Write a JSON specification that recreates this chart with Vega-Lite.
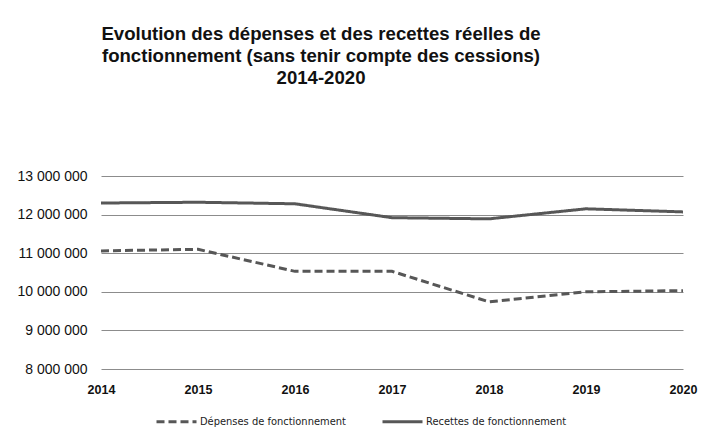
{
  "$schema": "https://vega.github.io/schema/vega-lite/v6.json",
  "width": 582,
  "height": 193,
  "padding": {"left": 11, "top": 25, "right": 20, "bottom": 5},
  "background": "white",
  "title": {
    "text": ["Evolution des dépenses et des recettes réelles de", "fonctionnement (sans tenir compte des cessions)", "2014-2020"],
    "font": "Liberation Sans",
    "fontSize": 18.6,
    "fontWeight": "bold",
    "color": "#111111",
    "lineHeight": 22,
    "anchor": "middle",
    "frame": "group",
    "dx": -71,
    "offset": 81
  },
  "data": {
    "values": [
      {"annee": "2014", "serie": "Dépenses de fonctionnement", "montant": 11060000},
      {"annee": "2015", "serie": "Dépenses de fonctionnement", "montant": 11100000},
      {"annee": "2016", "serie": "Dépenses de fonctionnement", "montant": 10530000},
      {"annee": "2017", "serie": "Dépenses de fonctionnement", "montant": 10530000},
      {"annee": "2018", "serie": "Dépenses de fonctionnement", "montant": 9740000},
      {"annee": "2019", "serie": "Dépenses de fonctionnement", "montant": 10000000},
      {"annee": "2020", "serie": "Dépenses de fonctionnement", "montant": 10030000},
      {"annee": "2014", "serie": "Recettes de fonctionnement", "montant": 12300000},
      {"annee": "2015", "serie": "Recettes de fonctionnement", "montant": 12320000},
      {"annee": "2016", "serie": "Recettes de fonctionnement", "montant": 12280000},
      {"annee": "2017", "serie": "Recettes de fonctionnement", "montant": 11920000},
      {"annee": "2018", "serie": "Recettes de fonctionnement", "montant": 11890000},
      {"annee": "2019", "serie": "Recettes de fonctionnement", "montant": 12150000},
      {"annee": "2020", "serie": "Recettes de fonctionnement", "montant": 12070000}
    ]
  },
  "mark": {"type": "line", "strokeWidth": 3, "color": "#575757"},
  "encoding": {
    "x": {
      "field": "annee",
      "type": "ordinal",
      "scale": {"type": "point", "padding": 0},
      "axis": {
        "title": null,
        "labelAngle": 0,
        "labelFont": "Liberation Sans",
        "labelFontWeight": "bold",
        "labelFontSize": 12.5,
        "labelColor": "#111111",
        "labelPadding": 14,
        "ticks": false,
        "domain": false,
        "grid": false
      }
    },
    "y": {
      "field": "montant",
      "type": "quantitative",
      "scale": {"domain": [8000000, 13000000], "nice": false, "zero": false},
      "axis": {
        "title": null,
        "values": [8000000, 9000000, 10000000, 11000000, 12000000, 13000000],
        "labelExpr": "replace(format(datum.value, ',d'), /,/g, ' ')",
        "labelFont": "Liberation Sans",
        "labelFontSize": 14,
        "labelColor": "#111111",
        "labelPadding": 14,
        "minExtent": 90,
        "maxExtent": 90,
        "ticks": false,
        "domain": false,
        "grid": true,
        "gridColor": "#8c8c8c",
        "gridWidth": 1
      }
    },
    "strokeDash": {
      "field": "serie",
      "type": "nominal",
      "scale": {
        "domain": ["Dépenses de fonctionnement", "Recettes de fonctionnement"],
        "range": [[8, 4], [1, 0]]
      },
      "legend": {
        "title": null,
        "orient": "none",
        "legendX": 54,
        "legendY": 224,
        "direction": "horizontal",
        "symbolType": "stroke",
        "symbolSize": 1600,
        "symbolStrokeWidth": 3,
        "symbolStrokeColor": "#575757",
        "labelFont": "DejaVu Sans Condensed, Roboto",
        "labelFontSize": 11,
        "labelColor": "#222222",
        "labelOffset": 2,
        "columnPadding": 30
      }
    }
  },
  "config": {
    "view": {"stroke": null}
  }
}
